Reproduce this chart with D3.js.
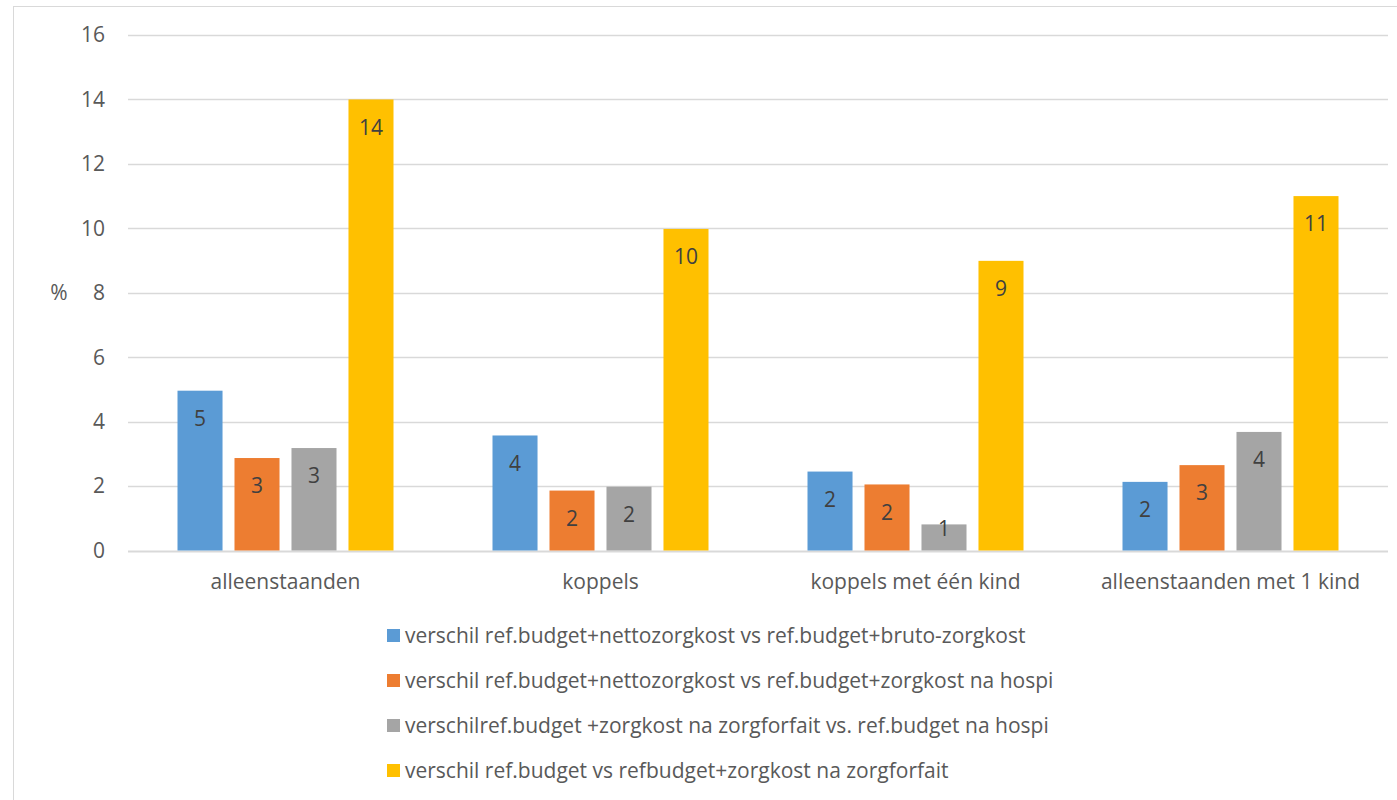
<!DOCTYPE html>
<html>
<head>
<meta charset="utf-8">
<script src="https://cdn.jsdelivr.net/npm/d3@7"></script>
<style>
  body { margin: 0; background: #fff; }
  svg { display: block; font-family: "Open Sans", sans-serif; }
</style>
</head>
<body>
<div id="chart"></div>
<script>
"use strict";

/* Chart data */
const categories = ["alleenstaanden", "koppels", "koppels met één kind", "alleenstaanden met 1 kind"];
const seriesNames = [
  "verschil ref.budget+nettozorgkost vs ref.budget+bruto-zorgkost",
  "verschil ref.budget+nettozorgkost vs ref.budget+zorgkost na hospi",
  "verschilref.budget +zorgkost na zorgforfait vs. ref.budget na hospi",
  "verschil ref.budget vs refbudget+zorgkost na zorgforfait"
];
const seriesBlue   = [4.96, 3.57, 2.45, 2.13];
const seriesOrange = [2.87, 1.86, 2.05, 2.65];
const seriesGray   = [3.18, 1.98, 0.81, 3.68];
const seriesYellow = [14.0, 9.98, 8.99, 11.0];
const yTicks = [0, 2, 4, 6, 8, 10, 12, 14, 16];
const colors = ["#5b9bd5", "#ed7d31", "#a5a5a5", "#ffc000"];

const series = [seriesBlue, seriesOrange, seriesGray, seriesYellow];

const width = 1397, height = 800;
const margin = {top: 35, right: 9, bottom: 250, left: 128};
const fontSize = "21px";

const svg = d3.select("#chart").append("svg")
    .attr("width", width)
    .attr("height", height);

/* Outer frame of the chart area */
svg.append("rect")
    .attr("x", 13.5).attr("y", 6.5)
    .attr("width", width + 10).attr("height", height + 10)
    .attr("fill", "none")
    .attr("stroke", "#d9d9d9");

const x0 = d3.scaleBand()
    .domain(categories)
    .range([margin.left, width - margin.right]);

const x1 = d3.scaleBand()
    .domain(d3.range(series.length))
    .range([0, 216])
    .paddingInner(0.21);

const y = d3.scaleLinear()
    .domain([0, 16])
    .range([height - margin.bottom + 0.5, margin.top]);

/* Gridlines */
svg.append("g")
    .selectAll("line")
    .data(yTicks)
    .enter().append("line")
    .attr("x1", margin.left)
    .attr("x2", width - margin.right)
    .attr("y1", d => Math.round(y(d)) + 0.5)
    .attr("y2", d => Math.round(y(d)) + 0.5)
    .attr("stroke", "#d9d9d9")
    .attr("stroke-width", d => d === 0 ? 2 : 1.5);

/* Y axis labels */
svg.append("g")
    .selectAll("text")
    .data(yTicks)
    .enter().append("text")
    .attr("x", 105)
    .attr("y", d => y(d))
    .attr("dy", "0.35em")
    .attr("text-anchor", "end")
    .attr("fill", "#595959")
    .style("font-size", fontSize)
    .text(d => d);

svg.append("text")
    .attr("x", 59)
    .attr("y", y(8))
    .attr("dy", "0.35em")
    .attr("text-anchor", "middle")
    .attr("fill", "#595959")
    .style("font-size", fontSize)
    .text("%");

/* Bars grouped by category */
const groups = svg.append("g")
    .selectAll("g")
    .data(categories)
    .enter().append("g")
    .attr("transform", d => "translate(" + (x0(d) + (x0.bandwidth() - 216) / 2) + ",0)");

groups.selectAll("rect")
    .data((d, ci) => series.map((s, si) => ({si: si, v: s[ci]})))
    .enter().append("rect")
    .attr("x", d => x1(d.si))
    .attr("y", d => y(d.v))
    .attr("width", x1.bandwidth())
    .attr("height", d => y(0) - y(d.v))
    .attr("fill", d => colors[d.si]);

/* Value labels inside the bar ends */
groups.selectAll("text")
    .data((d, ci) => series.map((s, si) => ({si: si, v: s[ci]})))
    .enter().append("text")
    .attr("x", d => x1(d.si) + x1.bandwidth() / 2)
    .attr("y", d => Math.min(y(d.v) + 28, y(0) - 22))
    .attr("dy", "0.35em")
    .attr("text-anchor", "middle")
    .attr("fill", "#404040")
    .style("font-size", fontSize)
    .text(d => Math.round(d.v));

/* Category labels */
svg.append("g")
    .selectAll("text")
    .data(categories)
    .enter().append("text")
    .attr("x", d => x0(d) + x0.bandwidth() / 2)
    .attr("y", 582)
    .attr("dy", "0.35em")
    .attr("text-anchor", "middle")
    .attr("fill", "#595959")
    .style("font-size", fontSize)
    .text(d => d);

/* Legend */
const legend = svg.append("g")
    .selectAll("g")
    .data(seriesNames)
    .enter().append("g")
    .attr("transform", (d, i) => "translate(387," + (636 + i * 45) + ")");

legend.append("rect")
    .attr("x", 0).attr("y", -7)
    .attr("width", 13).attr("height", 13)
    .attr("fill", (d, i) => colors[i]);

legend.append("text")
    .attr("x", 18)
    .attr("dy", "0.35em")
    .attr("fill", "#595959")
    .style("font-size", fontSize)
    .text(d => d);
</script>
</body>
</html>
